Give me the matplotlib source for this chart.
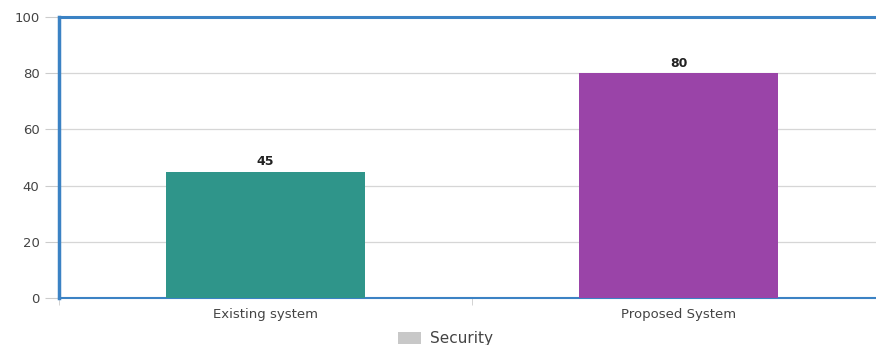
import matplotlib.pyplot as plt
from matplotlib.patches import Patch

# chart data
categories = ['Existing system', 'Proposed System']
values = [45, 80]
bar_colors = ['#2f958a', '#9a44a8']
yticks = [0, 20, 40, 60, 80, 100]

fig = plt.figure(figsize=(8.76, 3.45), dpi=100)
ax = fig.add_axes([59/876, 47/345, 826/876, 281/345])

x = list(range(len(categories)))
bars = ax.bar(x, values, width=0.48, color=bar_colors, zorder=3)

# value labels on top of bars
for xi, v in zip(x, values):
    ax.text(xi, v + 1.2, str(v), ha='center', va='bottom', fontsize=9,
            fontweight='bold', color='#222222')

ax.set_xlim(-0.5, len(categories) - 0.5)
ax.set_ylim(0, 100)
ax.set_yticks(yticks)
ax.set_xticks(x)
ax.set_xticklabels(categories, fontsize=9.5, color='#444444')
ax.tick_params(axis='y', labelsize=9.5, colors='#444444', length=10, color='#cccccc', pad=4)
ax.tick_params(axis='x', length=0, pad=7)

# minor ticks at category boundaries
ax.set_xticks([-0.5, 0.5], minor=True)
ax.tick_params(axis='x', which='minor', length=5, color='#cccccc')

ax.grid(axis='y', color='#d6d6d6', linewidth=0.9, zorder=0)

for side in ['left', 'top', 'bottom']:
    ax.spines[side].set_color('#3b82c4')
ax.spines['left'].set_linewidth(2.5)
ax.spines['top'].set_linewidth(2.2)
ax.spines['bottom'].set_linewidth(1.5)
ax.spines['right'].set_visible(False)

handle = Patch(facecolor='#c8c8c8', edgecolor='none')
fig.legend([handle], ['Security'], loc='center', bbox_to_anchor=(0.509, 6/345),
           frameon=False, fontsize=11, handlelength=1.5, handleheight=0.8,
           handletextpad=0.6, labelcolor='#444444')

fig.savefig('out.png', dpi=100)
